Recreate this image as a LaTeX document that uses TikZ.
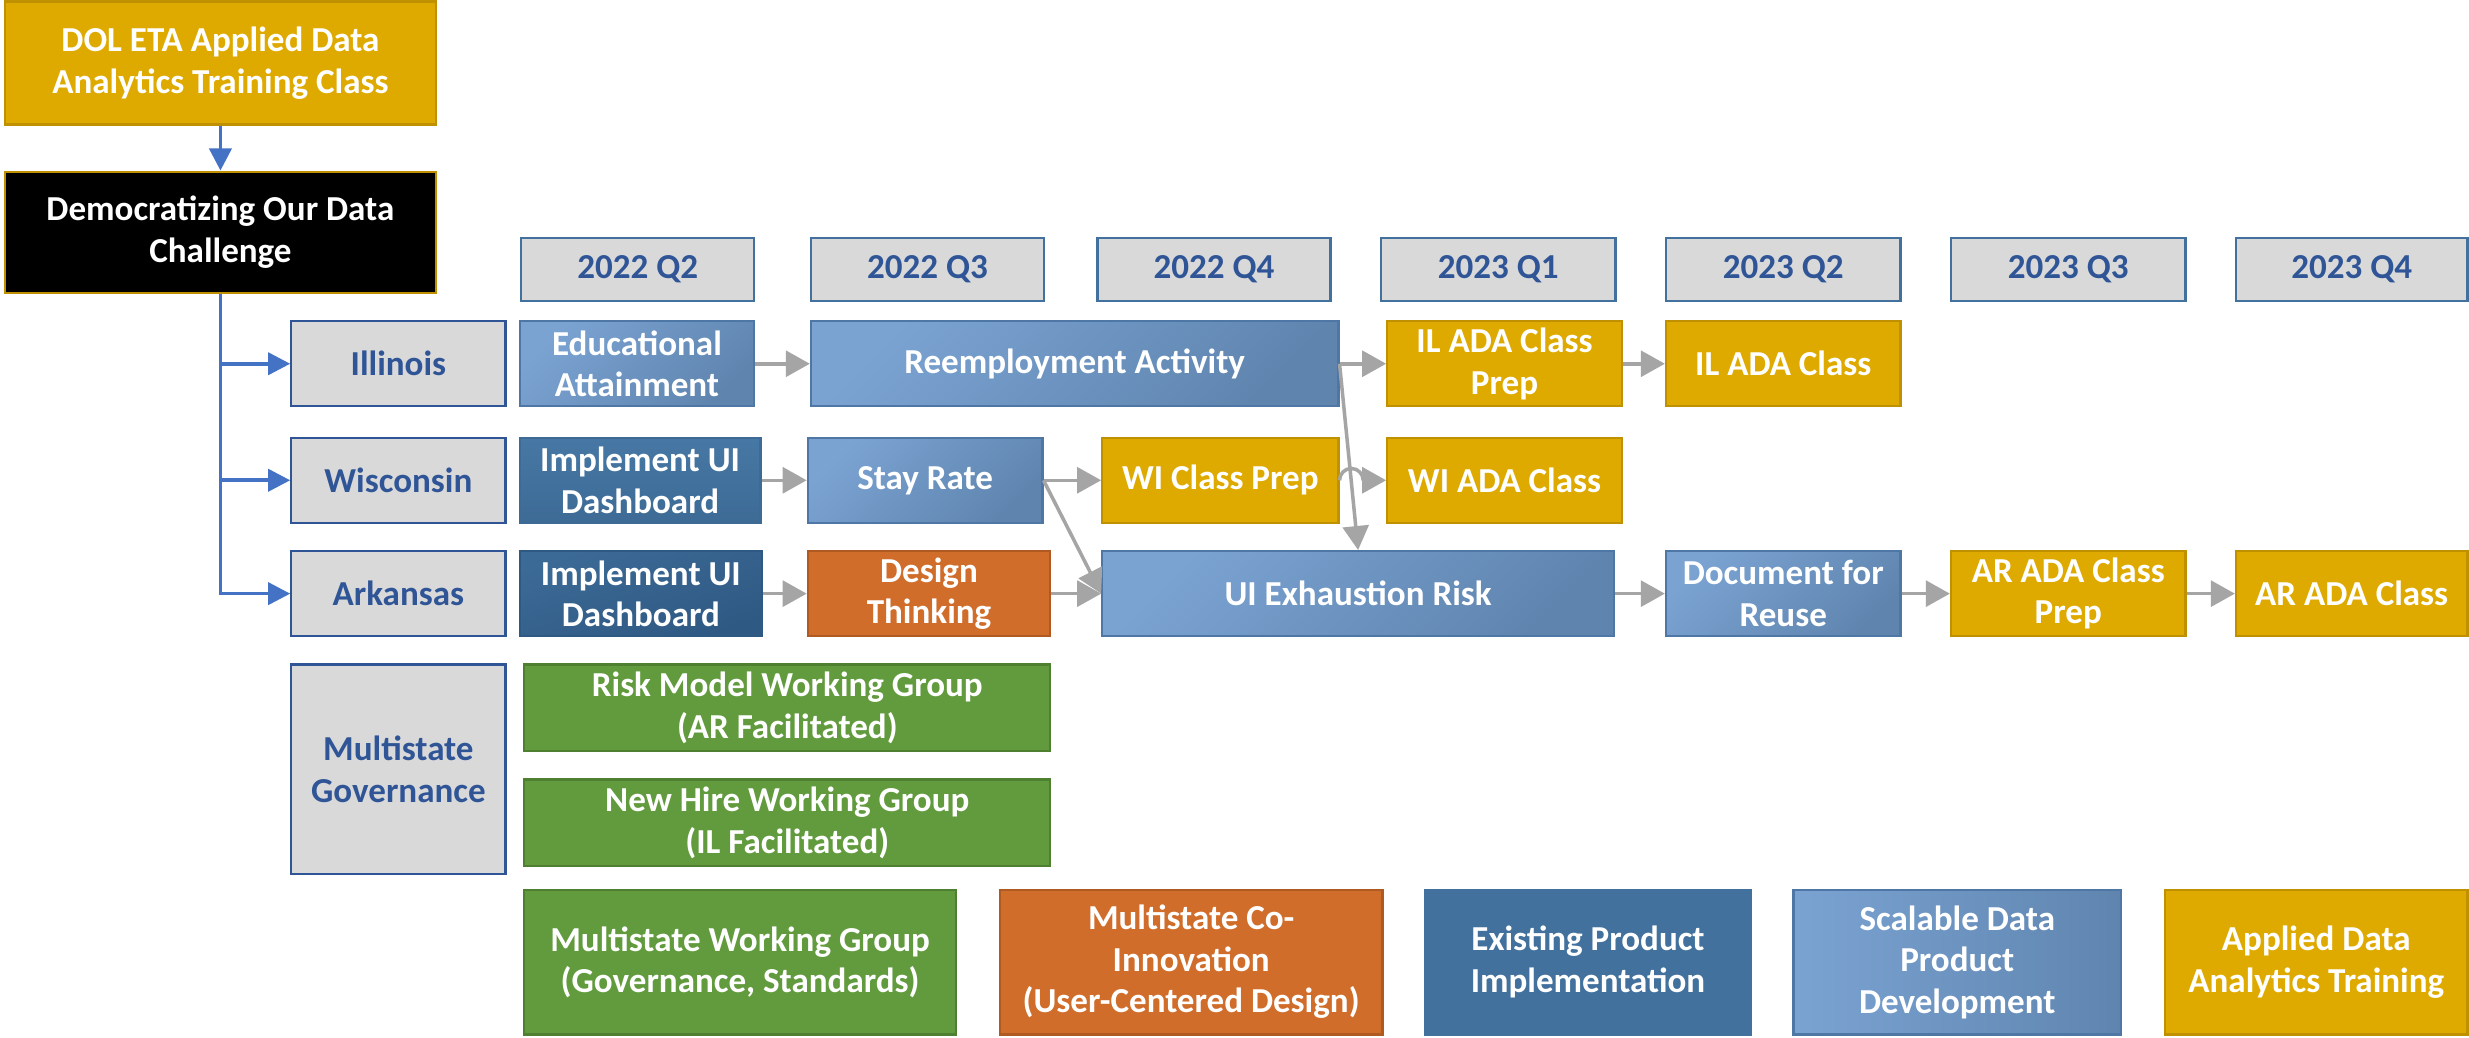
\documentclass[tikz,border=0pt]{standalone}
\usepackage{fontspec}
\setmainfont{Carlito}
\usetikzlibrary{arrows.meta,calc}
\definecolor{gold}{HTML}{DFAA00}
\definecolor{goldb}{HTML}{BF9000}
\definecolor{hdrfill}{HTML}{D9D9D9}
\definecolor{hdrline}{HTML}{41719C}
\definecolor{stline}{HTML}{2F5597}
\definecolor{sttext}{HTML}{2F5597}
\definecolor{lbA}{HTML}{7BA3D2}
\definecolor{lbB}{HTML}{5F85AF}
\definecolor{lbline}{HTML}{4F77A5}
\definecolor{ebA}{HTML}{4777A4}
\definecolor{ebB}{HTML}{3D6B96}
\definecolor{dbA}{HTML}{3C6A96}
\definecolor{dbB}{HTML}{2E5983}
\definecolor{exist}{HTML}{41719C}
\definecolor{orng}{HTML}{D06D2B}
\definecolor{orngb}{HTML}{AE5A22}
\definecolor{grn}{HTML}{629B3E}
\definecolor{grnb}{HTML}{4F7F30}
\definecolor{bline}{HTML}{4472C4}
\definecolor{gline}{HTML}{A5A5A5}
\begin{document}
\begin{tikzpicture}[x=0.3mm,y=-0.3mm,
  rc/.style n args={4}{at={({(#1+#3)/2},{(#2+#4)/2})},
     minimum width={(#3-#1)*0.3mm},minimum height={(#4-#2)*0.3mm}},
  base/.style={rectangle, inner sep=0pt, align=center,
     font=\fontsize{19}{22.5}\selectfont\bfseries, line width=1.2pt, text=white},
  goldbox/.style={base, fill=gold, draw=goldb},
  blackbox/.style={base, fill=black, draw=goldb},
  hdrbox/.style={base, fill=hdrfill, draw=hdrline, text=sttext},
  statebox/.style={base, fill=hdrfill, draw=stline, text=sttext},
  scalebox/.style={base, draw=lbline, top color=lbA, bottom color=lbB, shading angle=45},
  existbox/.style={base, draw=ebB, top color=ebA, bottom color=ebB},
  darkbox/.style={base, draw=dbB, top color=dbA, bottom color=dbB, shading angle=20},
  flatexist/.style={base, fill=exist, draw=exist},
  orangebox/.style={base, fill=orng, draw=orngb},
  greenbox/.style={base, fill=grn, draw=grnb},
  bconn/.style={draw=bline, line width=2pt, -{Triangle[length=12pt,width=12pt]}},
  gconn/.style={draw=gline, line width=1.9pt, -{Triangle[length=13pt,width=14pt]}}
]
\useasboundingbox[fill=white] (0,0) rectangle (1568,659);

% top boxes
\node[goldbox, rc={3}{1}{277}{79}] (dol) {DOL ETA Applied Data\\Analytics Training Class};
\node[blackbox, rc={3}{109}{277}{186}] (democ) {Democratizing Our Data\\Challenge};

% quarter headers
\node[hdrbox, rc={331}{151}{479}{191}] (q1) {2022 Q2};
\node[hdrbox, rc={515}{151}{663}{191}] (q2) {2022 Q3};
\node[hdrbox, rc={697}{151}{845}{191}] (q3) {2022 Q4};
\node[hdrbox, rc={877}{151}{1026}{191}] (q4) {2023 Q1};
\node[hdrbox, rc={1058}{151}{1207}{191}] (q5) {2023 Q2};
\node[hdrbox, rc={1239}{151}{1388}{191}] (q6) {2023 Q3};
\node[hdrbox, rc={1420}{151}{1567}{191}] (q7) {2023 Q4};

% state boxes
\node[statebox, rc={185}{204}{321}{258}] (il) {Illinois};
\node[statebox, rc={185}{278}{321}{332}] (wi) {Wisconsin};
\node[statebox, rc={185}{350}{321}{404}] (ar) {Arkansas};
\node[statebox, rc={185}{422}{321}{555}] (ms) {Multistate\\Governance};

% Illinois row
\node[scalebox, rc={330}{204}{479}{258}] (edu) {Educational\\Attainment};
\node[scalebox, rc={515}{204}{850}{258}] (reemp) {Reemployment Activity};
\node[goldbox, rc={881}{204}{1030}{258}] (ilprep) {IL ADA Class\\Prep};
\node[goldbox, rc={1058}{204}{1207}{258}] (ilclass) {IL ADA Class};

% Wisconsin row
\node[existbox, rc={330}{278}{483}{332}] (wiimpl) {Implement UI\\Dashboard};
\node[scalebox, rc={513}{278}{662}{332}] (stay) {Stay Rate};
\node[goldbox, rc={700}{278}{850}{332}] (wiprep) {WI Class Prep};
\node[goldbox, rc={881}{278}{1030}{332}] (wiclass) {WI ADA Class};

% Arkansas row
\node[darkbox, rc={330}{350}{484}{404}] (arimpl) {Implement UI\\Dashboard};
\node[orangebox, rc={513}{350}{667}{404}] (design) {Design\\Thinking};
\node[scalebox, rc={700}{350}{1025}{404}] (uiexh) {UI Exhaustion Risk};
\node[scalebox, rc={1058}{350}{1207}{404}] (doc) {Document for\\Reuse};
\node[goldbox, rc={1239}{350}{1388}{404}] (arprep) {AR ADA Class\\Prep};
\node[goldbox, rc={1420}{350}{1567}{404}] (arclass) {AR ADA Class};

% multistate
\node[greenbox, rc={333}{422}{667}{477}] (risk) {Risk Model Working Group\\(AR Facilitated)};
\node[greenbox, rc={333}{495}{667}{550}] (hire) {New Hire Working Group\\(IL Facilitated)};

% legend
\node[greenbox, rc={333}{565}{607}{657}] (lg1) {Multistate Working Group\\(Governance, Standards)};
\node[orangebox, rc={635}{565}{878}{657}] (lg2) {Multistate Co-\\Innovation\\(User-Centered Design)};
\node[flatexist, rc={905}{565}{1112}{657}] (lg3) {Existing Product\\Implementation};
\node[scalebox, shading angle=90, rc={1139}{565}{1347}{657}] (lg4) {Scalable Data\\Product\\Development};
\node[goldbox, rc={1375}{565}{1567}{657}] (lg5) {Applied Data\\Analytics Training};

% blue connectors
\draw[bconn] (dol) -- (democ);
\draw[bconn] (democ.south) |- (ar.west);
\draw[bconn] (democ.south |- il.west) -- (il.west);
\draw[bconn] (democ.south |- wi.west) -- (wi.west);

% gray connectors
\draw[gconn] (edu.east) -- (reemp.west);
\draw[gconn] (reemp.east) -- (ilprep.west);
\draw[gconn] (ilprep.east) -- (ilclass.west);
\draw[gconn] (wiimpl.east) -- (stay.west);
\draw[gconn] (stay.east) -- (wiprep.west);
\draw[gconn] (stay.east) -- (uiexh.west);
\draw[gconn] (arimpl.east) -- (design.west);
\draw[gconn] (design.east) -- (uiexh.west);
\draw[gconn] (uiexh.east) -- (doc.west);
\draw[gconn] (doc.east) -- (arprep.west);
\draw[gconn] (arprep.east) -- (arclass.west);
\draw[gconn] (reemp.east) -- (uiexh.north);
\draw[gconn] (wiprep.east) arc[start angle=180, end angle=0, radius=2.25mm] -- (wiclass.west);
\end{tikzpicture}
\end{document}
